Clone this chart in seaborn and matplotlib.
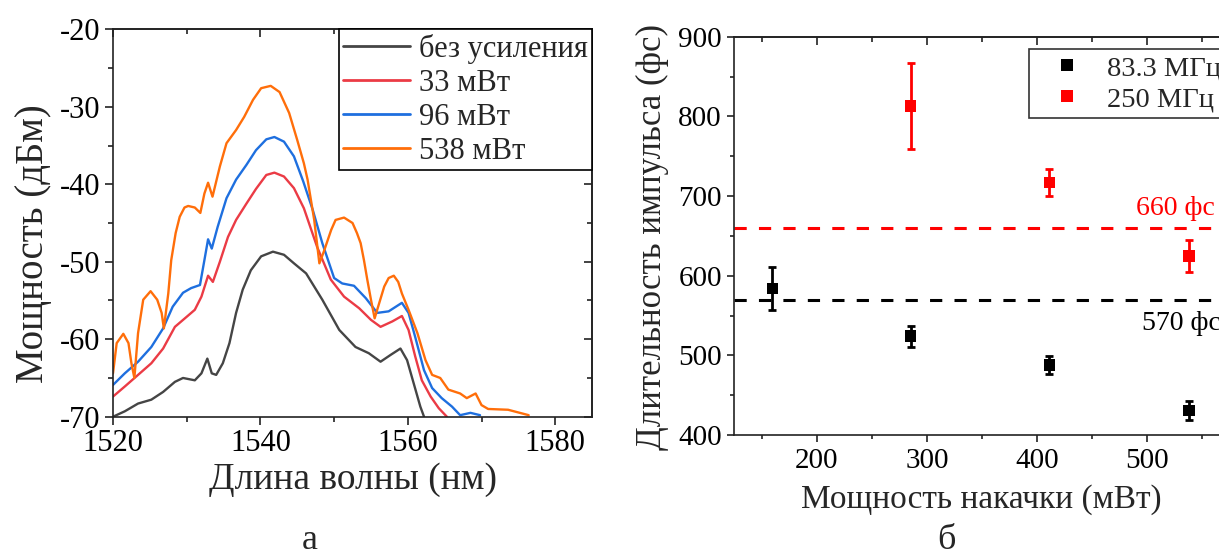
import numpy as np
import pandas as pd
import matplotlib
matplotlib.use("Agg")
import matplotlib.pyplot as plt
import seaborn as sns
from matplotlib.ticker import MultipleLocator

# ---------------- data: panel (а) spectra ----------------
series_names = ["без усиления", "33 мВт", "96 мВт", "538 мВт"]

wl_black = [1520.0, 1521.6, 1523.4, 1525.2, 1526.8, 1528.4, 1529.5, 1531.1, 1532.0, 1532.8,
            1533.4, 1534.0, 1534.9, 1535.8, 1536.7, 1537.6, 1538.7, 1540.1, 1541.7, 1543.2,
            1544.55, 1546.2, 1548.4, 1550.7, 1552.9, 1554.7, 1556.3, 1557.7, 1559.0, 1559.9,
            1560.8, 1561.7, 1562.2]
p_black = [-70.0, -69.3, -68.3, -67.8, -66.8, -65.5, -65.0, -65.3, -64.4, -62.5,
           -64.4, -64.6, -63.1, -60.5, -56.6, -53.6, -51.1, -49.3, -48.7, -49.1,
           -50.2, -51.5, -54.9, -58.8, -61.0, -61.8, -62.9, -62.0, -61.2, -62.7,
           -65.7, -68.7, -70.0]

wl_red = [1520.0, 1521.6, 1523.4, 1525.2, 1526.8, 1528.4, 1530.0, 1531.1, 1532.0, 1532.9,
          1533.55, 1534.5, 1535.6, 1536.7, 1538.1, 1539.4, 1540.8, 1541.9, 1543.2, 1544.55,
          1545.9, 1547.7, 1549.55, 1551.35, 1553.4, 1555.0, 1556.3, 1557.9, 1559.2, 1560.1,
          1561.0, 1561.9, 1563.1, 1564.2, 1565.3]
p_red = [-67.4, -66.1, -64.6, -63.1, -61.2, -58.4, -57.1, -56.2, -54.5, -51.8,
         -52.6, -50.0, -46.8, -44.6, -42.5, -40.6, -38.8, -38.5, -39.0, -40.5,
         -43.1, -48.1, -52.3, -54.5, -56.0, -57.5, -58.4, -57.7, -57.0, -58.8,
         -62.2, -65.3, -67.4, -68.9, -70.0]

wl_blue = [1520.0, 1521.6, 1523.4, 1525.2, 1526.8, 1528.1, 1529.5, 1530.6, 1531.8, 1532.4,
           1532.9, 1533.4, 1534.2, 1535.4, 1536.7, 1538.1, 1539.4, 1540.8, 1541.9, 1543.2,
           1544.55, 1545.8, 1547.1, 1548.4, 1550.0, 1551.1, 1552.7, 1554.3, 1555.85, 1557.4,
           1559.2, 1560.1, 1561.0, 1562.2, 1563.3, 1564.6, 1566.0, 1567.1, 1568.5, 1569.8]
p_blue = [-65.9, -64.4, -62.9, -61.0, -58.6, -55.8, -54.0, -53.4, -53.0, -49.8,
          -47.1, -48.3, -45.5, -41.8, -39.4, -37.5, -35.6, -34.2, -33.9, -34.5,
          -36.4, -39.6, -43.3, -47.6, -52.1, -52.8, -53.1, -54.7, -56.6, -56.4,
          -55.3, -56.6, -59.7, -64.0, -66.3, -67.6, -68.7, -69.8, -69.5, -69.8]

wl_orange = [1520.0, 1520.5, 1521.4, 1522.1, 1522.5, 1522.9, 1523.4, 1524.1, 1525.1, 1526.0,
             1526.6, 1526.9, 1527.5, 1527.9, 1528.5, 1529.05, 1529.7, 1530.2, 1531.1, 1531.85,
             1532.4, 1532.9, 1533.5, 1534.5, 1535.4, 1536.7, 1537.8, 1539.0, 1540.1, 1541.4,
             1542.6, 1543.9, 1545.0, 1545.9, 1546.4, 1547.3, 1548.0, 1548.6, 1549.6, 1550.2,
             1551.35, 1552.5, 1553.1, 1553.6, 1554.05, 1554.5, 1555.0, 1555.5, 1556.1, 1556.8,
             1557.4, 1558.1, 1558.7, 1559.2, 1560.1, 1561.3, 1562.4, 1563.3, 1564.4, 1565.5,
             1567.1, 1568.0, 1569.2, 1570.0, 1570.9, 1573.6, 1576.4]
p_orange = [-64.4, -60.5, -59.3, -60.5, -63.1, -65.0, -59.2, -54.9, -53.8, -54.9,
            -56.6, -58.6, -54.1, -49.8, -46.3, -44.2, -43.0, -42.8, -43.0, -43.7,
            -41.2, -39.8, -41.6, -37.7, -34.7, -33.0, -31.3, -29.1, -27.6, -27.3,
            -28.1, -30.8, -34.3, -37.3, -39.4, -44.6, -50.2, -48.7, -45.9, -44.6,
            -44.3, -45.0, -46.3, -47.6, -49.8, -52.3, -54.9, -57.3, -55.4, -53.2,
            -52.1, -51.8, -52.6, -54.1, -56.2, -59.2, -62.7, -64.6, -65.0, -66.5,
            -67.0, -67.6, -67.0, -68.5, -69.0, -69.1, -69.8]

line_colors = ["#454545", "#eb3b45", "#1e6fdf", "#ff6e0a"]

# ---------------- data: panel (б) pulse durations ----------------
rate_labels = ["83.3 МГц", "250 МГц"]
power_833 = [159.5, 285, 411, 538]
dur_833 = [584, 524, 488, 431]
err_833 = [27, 13, 11, 12]
power_250 = [285, 411, 538]
dur_250 = [813, 717, 625]
err_250 = [54, 17, 20]
ref_levels = [570, 660]
ref_texts = ["570 фс", "660 фс"]
marker_colors = ["#000000", "#ff0000"]

# ---------------- style ----------------
sns.set_theme(style="ticks")
plt.rcParams["font.family"] = ["Liberation Serif", "DejaVu Serif"]
plt.rcParams["axes.unicode_minus"] = False
plt.rcParams["axes.linewidth"] = 1.2
plt.rcParams["axes.edgecolor"] = "#222222"

fig = plt.figure(figsize=(12.19, 5.56), dpi=100)
ax1 = fig.add_axes([0.0927, 0.2505, 0.393, 0.6968])
ax2 = fig.add_axes([0.6024, 0.2176, 0.4202, 0.7164])

# ---------------- panel (а) ----------------
frames = []
for name, wl, p in zip(series_names,
                       [wl_black, wl_red, wl_blue, wl_orange],
                       [p_black, p_red, p_blue, p_orange]):
    frames.append(pd.DataFrame({"wl": wl, "p": p, "series": name}))
spec = pd.concat(frames, ignore_index=True)

sns.lineplot(data=spec, x="wl", y="p", hue="series", hue_order=series_names,
             palette=dict(zip(series_names, line_colors)), sort=False,
             estimator=None, linewidth=1.7, ax=ax1)

ax1.set_xlim(1520, 1585)
ax1.set_ylim(-70, -20)
ax1.xaxis.set_major_locator(MultipleLocator(20))
ax1.xaxis.set_minor_locator(MultipleLocator(10))
ax1.yaxis.set_major_locator(MultipleLocator(10))
ax1.yaxis.set_minor_locator(MultipleLocator(5))
ax1.tick_params(which="major", direction="out", length=6, width=1.2, labelsize=22,
                pad=3, colors="#222222", labelcolor="black")
ax1.tick_params(which="minor", direction="out", length=3.5, width=1.2, colors="#222222")

ax1.set_xlabel("Длина волны (нм)", fontsize=27)
ax1.set_ylabel("Мощность (дБм)", fontsize=28)
ax1.xaxis.label.set_va("center")
ax1.yaxis.label.set_va("center")
ax1.xaxis.set_label_coords(0.5, -0.163)
ax1.yaxis.set_label_coords(-0.165, 0.448)

h, l = ax1.get_legend_handles_labels()
leg1 = ax1.legend(h, l, loc="upper right", fontsize=22, frameon=True, fancybox=False,
                  edgecolor="black", framealpha=1, borderaxespad=0, borderpad=0.15,
                  handlelength=2.2, handletextpad=0.27, labelspacing=0.16)
leg1.get_frame().set_linewidth(1.2)
for lh in leg1.get_lines():
    lh.set_linewidth(2.0)

# ---------------- panel (б) ----------------
pts = pd.concat([
    pd.DataFrame({"power": power_833, "dur": dur_833, "err": err_833, "rate": rate_labels[0]}),
    pd.DataFrame({"power": power_250, "dur": dur_250, "err": err_250, "rate": rate_labels[1]}),
], ignore_index=True)

for lvl, col in zip(ref_levels, marker_colors):
    ax2.axhline(lvl, color=col, linestyle=(0, (4, 4)), linewidth=2.2, zorder=1)

for rate, col in zip(rate_labels, marker_colors):
    sub = pts[pts["rate"] == rate]
    ax2.errorbar(sub["power"], sub["dur"], yerr=sub["err"], fmt="none", ecolor=col,
                 elinewidth=2.0, capsize=3, capthick=2.0, zorder=2)

sns.scatterplot(data=pts, x="power", y="dur", hue="rate", hue_order=rate_labels,
                palette=dict(zip(rate_labels, marker_colors)), marker="s", s=70,
                edgecolor="none", linewidth=0, ax=ax2, zorder=3)

ax2.text(489.5, 684, ref_texts[1], color="#ff0000", fontsize=20, ha="left", va="center")
ax2.text(495, 540, ref_texts[0], color="black", fontsize=20, ha="left", va="center")

ax2.set_xlim(125, 590)
ax2.set_ylim(400, 900)
ax2.xaxis.set_major_locator(MultipleLocator(100))
ax2.xaxis.set_minor_locator(MultipleLocator(50))
ax2.yaxis.set_major_locator(MultipleLocator(100))
ax2.yaxis.set_minor_locator(MultipleLocator(50))
ax2.tick_params(which="major", direction="out", length=5, width=1.2, labelsize=21,
                pad=4, colors="#222222", labelcolor="black")
ax2.tick_params(which="minor", direction="out", length=3, width=1.2, colors="#222222")

ax2.set_xlabel("Мощность накачки (мВт)", fontsize=24)
ax2.set_ylabel("Длительность импульса (фс)", fontsize=25)
ax2.xaxis.label.set_va("center")
ax2.yaxis.label.set_va("center")
ax2.xaxis.set_label_coords(0.4815, -0.163)
ax2.yaxis.set_label_coords(-0.16, 0.497)

h2, l2 = ax2.get_legend_handles_labels()
leg2 = ax2.legend(h2, l2, loc="upper left", bbox_to_anchor=(0.575, 0.968), fontsize=20.5,
                  frameon=True, fancybox=False, edgecolor="#333333", framealpha=1,
                  borderaxespad=0, borderpad=0.2, handlelength=2.25, handletextpad=0.28,
                  labelspacing=0.18, markerscale=1.1)
leg2.get_frame().set_linewidth(1.2)

# mirrored inward ticks on top/right
for ax, xmaj, xmin, ymaj, ymin in [(ax1, 20, 10, 10, 5), (ax2, 100, 50, 100, 50)]:
    sx = ax.secondary_xaxis("top")
    sx.xaxis.set_major_locator(MultipleLocator(xmaj))
    sx.xaxis.set_minor_locator(MultipleLocator(xmin))
    sx.tick_params(which="major", direction="in", length=6, width=1.2, labeltop=False,
                   colors="#222222")
    sx.tick_params(which="minor", direction="in", length=3.5, width=1.2, colors="#222222")
    sy = ax.secondary_yaxis("right")
    sy.yaxis.set_major_locator(MultipleLocator(ymaj))
    sy.yaxis.set_minor_locator(MultipleLocator(ymin))
    sy.tick_params(which="major", direction="in", length=6, width=1.2, labelright=False,
                   colors="#222222")
    sy.tick_params(which="minor", direction="in", length=3.5, width=1.2, colors="#222222")

fig.text(310 / 1219, 1 - 549 / 556, "а", fontsize=26, ha="center", va="baseline")
fig.text(946 / 1219, 1 - 549 / 556, "б", fontsize=26, ha="center", va="baseline")

fig.savefig("out.png", dpi=100)
